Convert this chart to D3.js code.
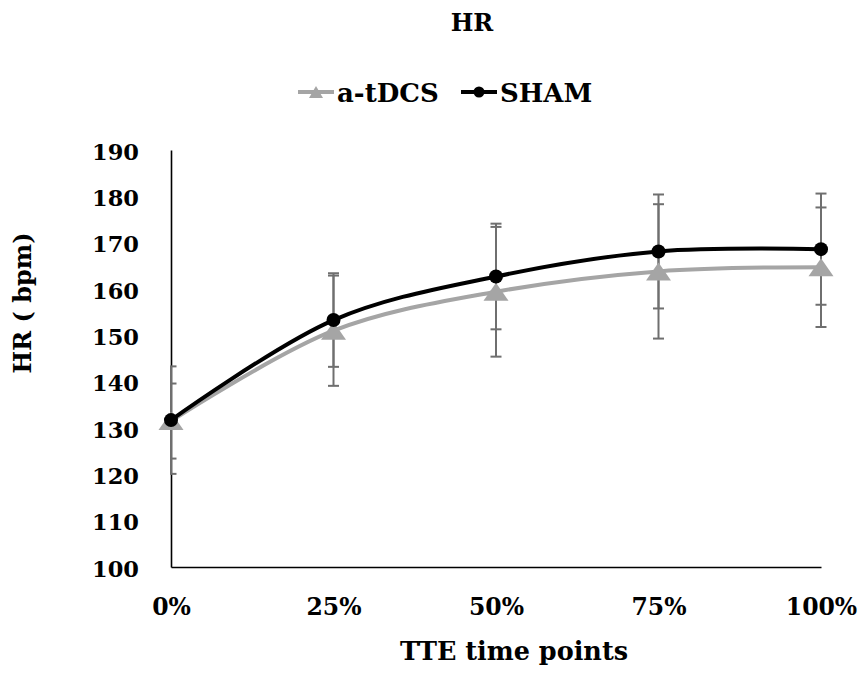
<!DOCTYPE html>
<html>
<head>
<meta charset="utf-8">
<script src="https://cdn.jsdelivr.net/npm/d3@7"></script>
<style>
  body { margin: 0; background: #fff; }
  text { font-family: "DejaVu Serif", "Liberation Serif", serif; font-weight: bold; fill: #000; }
</style>
</head>
<body>
<div id="wrapper"></div>
<script>
// 1. Data
const categories = ["0%", "25%", "50%", "75%", "100%"]
const tdcsMean = [131.5, 151.0, 159.4, 163.8, 164.7]
const tdcsErr = [8.1, 11.9, 14.0, 14.5, 12.9]
const shamMean = [131.7, 153.3, 162.7, 168.1, 168.6]
const shamErr = [11.6, 10.1, 11.4, 12.3, 12.0]
const yTicks = [100, 110, 120, 130, 140, 150, 160, 170, 180, 190]

const series = [
  { name: "a-tDCS", mean: tdcsMean, err: tdcsErr, color: "#a5a5a5", marker: "triangle" },
  { name: "SHAM", mean: shamMean, err: shamErr, color: "#000000", marker: "circle" },
]

// 2. Dimensions
const width = 860
const height = 692

const svg = d3.select("#wrapper")
  .append("svg")
  .attr("width", width)
  .attr("height", height)

// 3. Scales
const x = d3.scalePoint().domain(categories).range([171, 821])
const y = d3.scaleLinear().domain([100, 190]).range([567, 150])

// 4. Axes
const yAxis = svg.append("g")
  .attr("transform", "translate(171,0)")
  .call(d3.axisLeft(y).tickValues(yTicks).tickSize(0).tickSizeOuter(0).tickPadding(32))
yAxis.select(".domain").attr("stroke", "#000").attr("stroke-width", 1.6)
yAxis.selectAll("text").style("font-size", "22.5px").attr("dy", "0.4em")

const xAxis = svg.append("g")
  .attr("transform", "translate(0,567)")
  .call(d3.axisBottom(x).tickSize(0).tickSizeOuter(0).tickPadding(31))
xAxis.select(".domain").attr("stroke", "#000").attr("stroke-width", 1.6)
xAxis.selectAll("text").style("font-size", "23.5px")

// 5. Data
svg.append("clipPath").attr("id", "plot-clip")
  .append("rect").attr("x", 170).attr("y", 0).attr("width", 690).attr("height", 567)

const bars = svg.append("g").attr("clip-path", "url(#plot-clip)")
series.forEach(s => {
  categories.forEach((c, i) => {
    const cx = x(c)
    const hi = y(s.mean[i] + s.err[i])
    const lo = y(s.mean[i] - s.err[i])
    bars.append("line").attr("x1", cx).attr("x2", cx).attr("y1", hi).attr("y2", lo)
      .attr("stroke", "#6f6f6f").attr("stroke-width", 2)
    ;[hi, lo].forEach(v => {
      bars.append("line").attr("x1", cx - 5.5).attr("x2", cx + 5.5).attr("y1", v).attr("y2", v)
        .attr("stroke", "#6f6f6f").attr("stroke-width", 2)
    })
  })
})

const line = d3.line()
  .x((d, i) => x(categories[i]))
  .y(d => y(d))
  .curve(d3.curveCatmullRom.alpha(0.5))

const triangle = (cx, cy, w, h) =>
  `M${cx},${cy - h / 2}L${cx + w / 2},${cy + h / 2}L${cx - w / 2},${cy + h / 2}Z`

series.forEach(s => {
  svg.append("path")
    .attr("d", line(s.mean))
    .attr("fill", "none")
    .attr("stroke", s.color)
    .attr("stroke-width", 4)
  categories.forEach((c, i) => {
    if (s.marker === "triangle") {
      svg.append("path").attr("d", triangle(x(c), y(s.mean[i]), 25, 18)).attr("fill", s.color)
    } else {
      svg.append("circle").attr("cx", x(c)).attr("cy", y(s.mean[i])).attr("r", 7).attr("fill", s.color)
    }
  })
})

// 6. Peripherals
svg.append("text")
  .attr("x", 472).attr("y", 31)
  .attr("text-anchor", "middle")
  .style("font-size", "24px")
  .text("HR")

svg.append("text")
  .attr("x", 514).attr("y", 660)
  .attr("text-anchor", "middle")
  .style("font-size", "25.5px")
  .text("TTE time points")

svg.append("text")
  .attr("transform", "translate(31,303) rotate(-90)")
  .attr("text-anchor", "middle")
  .style("font-size", "24px")
  .text("HR ( bpm)")

// legend
const legendItems = [
  { s: series[0], x: 298 },
  { s: series[1], x: 461 },
]
legendItems.forEach(({ s, x: lx }) => {
  const g = svg.append("g").attr("transform", `translate(${lx},92)`)
  g.append("line").attr("x1", 0).attr("x2", 36).attr("y1", 0).attr("y2", 0)
    .attr("stroke", s.color).attr("stroke-width", 4)
  if (s.marker === "triangle") {
    g.append("path").attr("d", triangle(18, 0, 14, 12)).attr("fill", s.color)
  } else {
    g.append("circle").attr("cx", 18).attr("cy", 0).attr("r", 5.5).attr("fill", s.color)
  }
  g.append("text").attr("x", 39).attr("y", 10).style("font-size", "26px").text(s.name)
})
</script>
</body>
</html>
